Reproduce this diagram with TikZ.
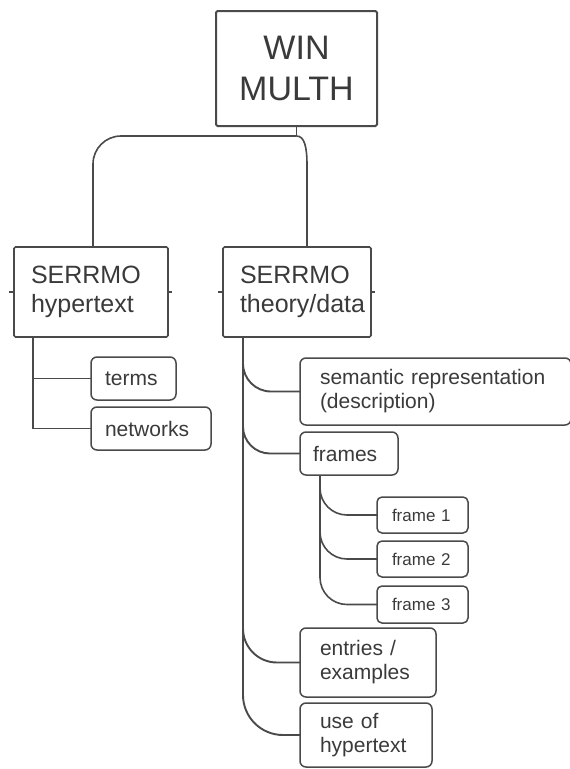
\documentclass[tikz,border=0pt]{standalone}
\usepackage{fontspec}
\setmainfont{Liberation Sans}
\definecolor{linegray}{HTML}{4A4A4A}
\definecolor{textgray}{HTML}{3A3A3A}
\tikzset{
  base/.style={draw=linegray, text=textgray, anchor=north west, inner ysep=0pt, outer sep=0pt},
  topbox/.style={base, line width=2pt, rounded corners=1.5pt, align=center,
    font=\fontsize{34}{41}\selectfont},
  mainbox/.style={base, line width=1.6pt, rounded corners=1.5pt, align=left,
    inner xsep=17pt, font=\fontsize{25}{29}\selectfont},
  leafbox/.style={base, line width=1.5pt, rounded corners=6pt, align=left,
    font=\fontsize{21}{24}\selectfont},
  smallbox/.style={base, line width=1.5pt, rounded corners=5pt, align=left,
    inner xsep=15pt, font=\fontsize{17}{20}\selectfont},
  link/.style={draw=linegray, line width=1.6pt},
  tick/.style={draw=linegray, line width=1.5pt},
}
\begin{document}
\begin{tikzpicture}[x=1pt, y=-1pt]
\useasboundingbox (0,0) rectangle (570,769);

% root
\node[topbox, minimum width=161pt, minimum height=115pt, text width=140pt] (win) at (216,11) {WIN\\MULTH};

% second level
\node[mainbox, minimum height=90pt, text width=120pt] (hyp) at (14,247) {SERRMO\\hypertext};
\node[mainbox, minimum height=90pt, text width=114pt] (thd) at (223,247) {SERRMO\\theory/data};

% hypertext branch
\node[leafbox, inner xsep=14pt, minimum height=43pt, text width=57pt] (terms) at (91,357) {terms};
\node[leafbox, inner xsep=14pt, minimum height=43pt, text width=92pt] (net) at (91,407) {networks};

% theory/data branch
\node[leafbox, inner xsep=20pt, minimum height=67pt, text width=231pt] (sem) at (300,358) {semantic representation\\(description)};
\node[leafbox, inner xsep=13pt, minimum height=43pt, text width=72pt] (frm) at (300,432) {frames};
\node[smallbox, minimum height=36pt, text width=61pt] (f1) at (377,497) {frame 1};
\node[smallbox, minimum height=36pt, text width=61pt] (f2) at (377,541) {frame 2};
\node[smallbox, minimum height=37pt, text width=61pt] (f3) at (377,586) {frame 3};
\node[leafbox, inner xsep=20pt, minimum height=69pt, text width=96pt] (ent) at (300,628) {entries /\\examples};
\node[leafbox, inner xsep=20pt, minimum height=64pt, text width=92pt] (use) at (300,703) {use of\\hypertext};

% side markers on the second-level boxes
\draw[tick] (hyp.west) -- ++(-5,0);
\draw[tick] (hyp.east) -- ++(4,0);
\draw[tick] (thd.west) -- ++(-5,0);
\draw[tick] (thd.east) -- ++(4,0);

% root to second level
\coordinate (j) at ([yshift=-10pt]win.south);
\coordinate (lj) at ([xshift=2pt]hyp.north);
\coordinate (rj) at ([xshift=10pt]thd.north);
\draw[link] (win.south) -- (j);
\draw[link, rounded corners=28pt] (j) -| (lj);
\draw[link] (j) .. controls ([xshift=8pt]j) and ([yshift=100pt]rj) .. ([yshift=82pt]rj) -- (rj);

% hypertext children
\coordinate (hs) at ([xshift=19pt]hyp.south west);
\draw[link] (hs) |- (terms.west);
\draw[link] (hs) |- (net.west);

% theory/data children
\coordinate (ts) at ([xshift=20pt]thd.south west);
\draw[link, line width=1.9pt, rounded corners=28pt] (ts) |- (sem.west);
\draw[link, line width=1.9pt, rounded corners=27pt] (ts) |- (frm.west);
\draw[link, line width=1.9pt, rounded corners=34pt] (ts) |- (ent.west);
\draw[link, line width=1.9pt, rounded corners=40pt] (ts) |- (use.west);

% frames children
\coordinate (fs) at ([xshift=20pt]frm.south west);
\draw[link, rounded corners=27pt] (fs) |- (f1.west);
\draw[link, rounded corners=27pt] (fs) |- (f2.west);
\draw[link, rounded corners=27pt] (fs) |- (f3.west);
\end{tikzpicture}
\end{document}
